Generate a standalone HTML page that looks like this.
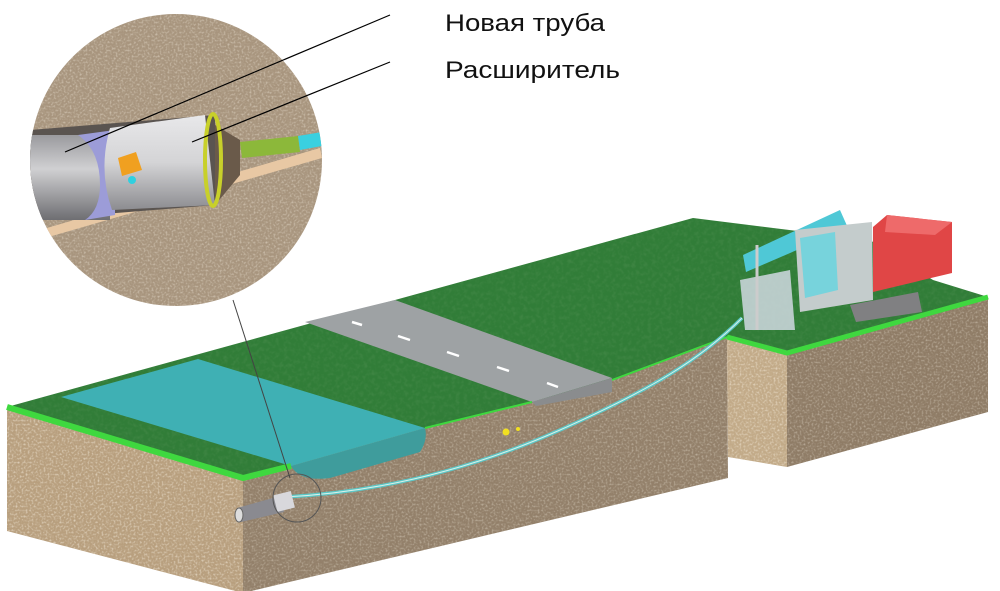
<!DOCTYPE html>
<html><head><meta charset="utf-8"><style>html,body{margin:0;padding:0;background:#fff;}svg{display:block}</style></head>
<body>
<svg width="1000" height="591" viewBox="0 0 1000 591" xmlns="http://www.w3.org/2000/svg">
<defs>
<filter id="grain"><feTurbulence type="fractalNoise" baseFrequency="0.5" numOctaves="2" seed="7"/><feColorMatrix type="matrix" values="0 0 0 0 1  0 0 0 0 0.95  0 0 0 0 0.85  0 0 0 1.3 -0.6"/><feComposite in2="SourceGraphic" operator="in"/></filter>
<filter id="grass"><feTurbulence type="fractalNoise" baseFrequency="0.25" numOctaves="2" seed="5"/><feColorMatrix type="matrix" values="0 0 0 0 0.1  0 0 0 0 0.3  0 0 0 0 0.1  0 0 0 1.2 -0.5"/><feComposite in2="SourceGraphic" operator="in"/></filter>
<linearGradient id="pg" x1="0" y1="0" x2="0" y2="1"><stop offset="0" stop-color="#9a9a9e"/><stop offset="0.4" stop-color="#d0d0d2"/><stop offset="1" stop-color="#6e6e72"/></linearGradient>
<linearGradient id="rg" x1="0" y1="0" x2="0" y2="1"><stop offset="0" stop-color="#e8e8ea"/><stop offset="0.5" stop-color="#d4d4d6"/><stop offset="1" stop-color="#8c8c90"/></linearGradient>
<clipPath id="cc"><circle cx="176" cy="160" r="146"/></clipPath>
</defs>

<!-- top grass (drawn first, faces cover below) -->
<polygon points="7,407 395,300 693,218 870,240 933,280 988,297 787,353 727,337 617,378 532,402 425,428 291,466 243,478" fill="#317d38"/>
<polygon points="7,407 395,300 693,218 870,240 933,280 988,297 787,353 727,337 617,378 532,402 425,428 291,466 243,478" fill="#fff" filter="url(#grass)" opacity="0.6"/>

<!-- soil faces -->
<polygon points="7,407 243,478 243,593 7,531" fill="#b89f7e"/>
<polygon points="243,478 291,466 425,428 532,402 617,378 727,337 728,478 243,593" fill="#93806a"/>
<polygon points="727,337 787,353 787,467 728,457" fill="#c2aa88"/>
<polygon points="787,353 988,297 988,412 787,467" fill="#8f7c66"/>
<g filter="url(#grain)">
<polygon points="7,407 243,478 243,593 7,531" fill="#fff"/>
<polygon points="243,478 291,466 425,428 532,402 617,378 727,337 728,478 243,593" fill="#fff" opacity="0.7"/>
<polygon points="727,337 787,353 787,467 728,457" fill="#fff"/>
<polygon points="787,353 988,297 988,412 787,467" fill="#fff" opacity="0.7"/>
</g>
<!-- water dip on front face -->
<path d="M291,466 Q300,482 330,478 L420,452 Q428,440 425,428 Z" fill="#3f9c9c"/>

<!-- water -->
<polygon points="61,397 198,359 425,428 291,466" fill="#3fb0b4"/>
<!-- road -->
<polygon points="305,322 395,300 612,378 532,402" fill="#9ea2a4"/>
<polygon points="532,402 612,378 612,392 536,406" fill="#8a8c8e"/>
<g stroke="#fff" stroke-width="2.5">
<line x1="352" y1="322" x2="362" y2="325"/><line x1="398" y1="336" x2="410" y2="340"/><line x1="447" y1="352" x2="459" y2="356"/><line x1="497" y1="367" x2="509" y2="371"/><line x1="547" y1="383" x2="558" y2="387"/>
</g>
<!-- bright edges -->
<polyline points="7,407 243,478 291,466" fill="none" stroke="#3fd83f" stroke-width="6"/>
<polyline points="727,337 787,353 988,297" fill="none" stroke="#3fd83f" stroke-width="5"/>
<polyline points="425,428 532,402" fill="none" stroke="#3fd83f" stroke-width="2"/>
<polyline points="612,380 727,337" fill="none" stroke="#3fd83f" stroke-width="2"/>

<!-- yellow dots -->
<circle cx="506" cy="432" r="3.5" fill="#f2e020"/><circle cx="518" cy="429" r="2" fill="#f2e020"/>

<!-- pipe path -->
<path d="M285,497 C380,492 470,470 560,430 C650,390 700,360 742,318" fill="none" stroke="#5cc8c8" stroke-width="3.5"/>
<path d="M285,497 C380,492 470,470 560,430 C650,390 700,360 742,318" fill="none" stroke="#d8f0e8" stroke-width="1"/>
<polygon points="237,508 280,496 284,512 241,522" fill="#8a8a90"/>
<ellipse cx="239" cy="515" rx="4" ry="7" fill="#ddd" stroke="#666"/>
<rect x="275" y="493" width="18" height="17" fill="#d8d8dc" transform="rotate(-14 284 501)"/>
<circle cx="297" cy="498" r="24" fill="none" stroke="#555" stroke-width="1"/>

<!-- leader from circle -->
<line x1="233" y1="300" x2="290" y2="478" stroke="#444" stroke-width="1"/>

<!-- machine -->
<polygon points="850,305 918,292 922,312 856,322" fill="#808082"/>
<polygon points="740,280 790,270 795,330 745,330" fill="#c8d4d8" opacity="0.9"/>
<polygon points="743,255 840,210 848,228 746,272" fill="#4fc8d6"/>
<polygon points="795,230 872,222 873,300 800,312" fill="#c4cccc"/>
<polygon points="800,238 835,232 838,290 805,298" fill="#6ad4de" opacity="0.85"/>
<polygon points="873,227 887,215 952,222 952,273 873,292" fill="#e04646"/>
<polygon points="887,215 952,222 935,235 885,232" fill="#ee6a6a"/>
<line x1="757" y1="245" x2="757" y2="330" stroke="#ccc" stroke-width="3"/>

<!-- inset circle -->
<circle cx="176" cy="160" r="146" fill="#a8957e"/>
<circle cx="176" cy="160" r="146" fill="#fff" filter="url(#grain)" opacity="0.8"/>
<g clip-path="url(#cc)">
<polygon points="40,230 320,148 322,158 45,238" fill="#e8c8a4"/>
<polygon points="30,130 215,115 215,205 30,220" fill="#5a5450"/>
<polygon points="215,125 240,140 240,175 215,205" fill="#6a5a4a"/>
<rect x="30" y="135" width="80" height="85" fill="url(#pg)"/>
<path d="M78,135 Q100,150 100,185 Q100,210 85,220 L115,215 L115,130 Z" fill="#9c9cd8"/>
<path d="M110,128 L205,115 L215,205 L112,210 Q98,170 110,128 Z" fill="url(#rg)"/>
<ellipse cx="213" cy="160" rx="8" ry="46" fill="none" stroke="#c8d02a" stroke-width="4"/>
<polygon points="240,142 298,136 300,152 242,158" fill="#8cb83a"/>
<polygon points="298,136 322,132 322,146 300,150" fill="#3ad0e0"/>
<polygon points="118,158 136,152 142,170 122,176" fill="#f0a020"/>
<circle cx="132" cy="180" r="4" fill="#30d0e0"/>
</g>

<!-- leaders -->
<line x1="390" y1="15" x2="65" y2="152" stroke="#000" stroke-width="1.2"/>
<line x1="390" y1="62" x2="192" y2="142" stroke="#000" stroke-width="1.2"/>
<text x="445" y="31" font-family="Liberation Sans, sans-serif" font-size="24" textLength="160" lengthAdjust="spacingAndGlyphs" fill="#111">Новая труба</text>
<text x="445" y="78" font-family="Liberation Sans, sans-serif" font-size="24" textLength="175" lengthAdjust="spacingAndGlyphs" fill="#111">Расширитель</text>
</svg>
</body></html>
